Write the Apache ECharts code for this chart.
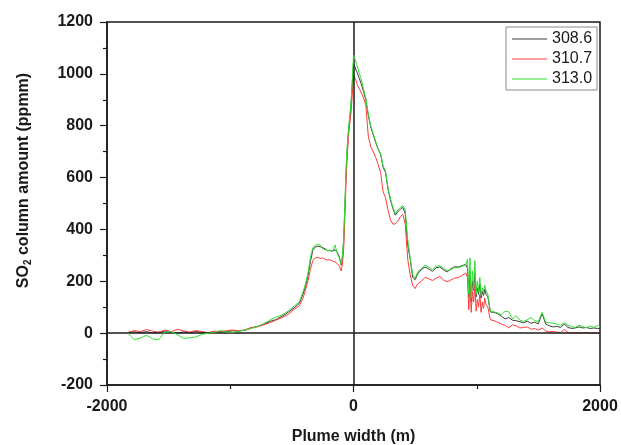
<!DOCTYPE html>
<html>
<head>
<meta charset="utf-8">
<script src="https://cdn.jsdelivr.net/npm/echarts@6/dist/echarts.min.js"></script>
<style>html,body{margin:0;padding:0;background:#fff;}#c{width:621px;height:445px;}</style>
</head>
<body>
<div id="c"></div>
<script>
const seriesNames = ['308.6', '310.7', '313.0'];
const xTicks = [-2000, 0, 2000];
const yTicks = [-200, 0, 200, 400, 600, 800, 1000, 1200];

const xs = [
  -1830,-1780,-1730,-1680,-1630,-1580,-1530,-1480,-1430,-1380,-1330,-1280,-1230,-1180,-1130,-1080,-1030,-980,-930,-880,
  -830,-780,-730,-680,-630,-580,-530,-480,
  -440,-410,-390,-370,-350,-330,-310,-290,-270,-250,-230,-210,-190,-170,-150,-130,-115,-100,
  -90,-80,-70,-60,-50,-40,-30,-20,-10,0,
  10,20,30,45,60,80,100,120,140,160,180,200,220,240,260,280,300,320,340,360,380,400,420,440,460,480,500,520,
  550,580,610,640,670,700,730,760,790,820,850,880,910,
  925,935,945,955,965,975,985,995,1005,1015,1025,1035,1045,1055,1065,1075,
  1090,1110,1140,1170,1200,1230,1260,1290,1320,1350,1380,1410,1440,1470,1500,1530,1560,1590,1620,1650,1680,1710,1740,1770,1800,1830,1860,1890,1920,1950,1980,2000
];

const y3086 = [
  3,5,2,6,1,4,8,3,0,5,2,6,3,1,4,7,5,9,8,11,
  20,26,34,45,52,65,80,98,
  115,150,180,220,275,320,332,335,333,330,325,318,318,316,322,310,295,262,
  290,350,480,620,715,780,830,880,960,1040,
  1030,1015,1005,985,965,935,900,840,795,765,735,710,690,640,620,555,513,480,455,468,478,485,460,340,285,215,206,228,
  245,255,248,238,252,255,245,236,248,256,255,260,265,
  250,140,235,120,200,165,230,140,175,150,190,135,160,145,170,150,
  140,82,80,75,65,55,60,50,48,44,40,46,38,42,36,75,35,28,24,26,22,35,22,18,20,24,20,22,18,20,18,18
];

const y3107 = [
  2,10,6,14,8,3,12,6,15,9,4,10,6,2,8,5,10,12,9,13,
  22,24,32,40,50,60,72,92,
  105,135,165,200,245,280,290,292,288,290,285,282,283,278,275,268,258,240,
  265,320,450,590,690,760,810,850,920,995,
  990,975,960,945,930,910,880,760,718,700,678,650,620,545,522,475,436,420,422,432,449,458,420,285,225,185,172,190,
  200,215,210,203,212,218,205,198,205,212,215,222,232,
  215,90,200,80,160,120,185,85,130,100,150,80,120,95,135,110,
  100,52,48,42,35,30,20,32,28,20,22,24,15,18,12,20,8,5,6,4,2,14,3,0,2,1,0,2,0,1,0,0
];

const y3130 = [
  0,-25,-20,-8,-22,-25,5,5,-5,-20,-18,-15,-5,0,2,10,5,3,8,12,
  18,25,36,50,62,70,85,105,
  120,158,190,230,290,330,338,342,340,325,322,318,320,315,340,305,290,265,
  300,365,500,640,730,790,840,890,975,1072,
  1060,1045,1030,1005,985,945,905,845,800,770,740,712,692,645,625,560,518,485,462,475,485,492,475,360,290,225,212,235,
  250,262,255,245,258,260,250,240,245,254,252,258,262,
  285,150,290,135,240,170,280,150,200,160,215,145,175,160,185,165,
  150,85,82,78,70,85,82,55,68,50,45,52,60,48,45,80,42,40,38,35,30,40,30,25,22,30,26,20,28,22,30,25
];

function pairs(ys) {
  const n = Math.min(xs.length, ys.length);
  const out = [];
  for (let i = 0; i < n; i++) out.push([xs[i], ys[i]]);
  return out;
}

const colors = ['#3c3c3c', '#ff3b3b', '#2fe02f'];
const fontFam = '"Liberation Sans", Arial, sans-serif';
const chart = echarts.init(document.getElementById('c'), null, {renderer: 'canvas'});

const seriesData = [y3086, y3107, y3130];
const series = seriesData.map((ys, i) => ({
  name: seriesNames[i],
  type: 'line',
  data: pairs(ys),
  symbol: 'none',
  showSymbol: false,
  lineStyle: {width: 1, color: colors[i]},
  itemStyle: {color: colors[i]},
  z: 3 + i,
  animation: false
}));
series[0].markLine = {
  silent: true,
  symbol: ['none', 'none'],
  label: {show: false},
  lineStyle: {color: '#1a1a1a', width: 1.5, type: 'solid'},
  data: [{xAxis: 0}, {yAxis: 0}],
  animation: false
};

const plainNum = v => String(v);

chart.setOption({
  backgroundColor: '#fff',
  animation: false,
  textStyle: {fontFamily: fontFam},
  grid: {left: 107, right: 21, top: 22, bottom: 60, containLabel: false, outerBoundsMode: 'none', show: true, borderColor: '#1a1a1a', borderWidth: 1.5, backgroundColor: 'transparent'},
  legend: {
    orient: 'vertical',
    left: 506, top: 27,
    padding: [4, 5, 3, 6],
    itemGap: 4,
    itemWidth: 35,
    itemHeight: 14,
    borderColor: '#8a8a8a',
    borderWidth: 1,
    backgroundColor: '#fff',
    textStyle: {fontSize: 16, color: '#1a1a1a', fontFamily: fontFam, lineHeight: 16},
    data: seriesNames.map((n, i) => ({name: n, icon: 'path://M0,0 L35,0 L35,1 L0,1 Z', itemStyle: {color: colors[i]}}))
  },
  xAxis: {
    type: 'value',
    min: xTicks[0], max: xTicks[xTicks.length - 1], interval: 2000,
    name: 'Plume width (m)',
    nameLocation: 'middle',
    nameGap: 44,
    nameTextStyle: {fontSize: 16, fontWeight: 'bold', color: '#1a1a1a', fontFamily: fontFam},
    axisLine: {show: true, onZero: false, lineStyle: {color: '#1a1a1a', width: 1.5}},
    axisTick: {show: true, length: 7, lineStyle: {color: '#1a1a1a', width: 1.2}},
    minorTick: {show: true, splitNumber: 2, length: 4, lineStyle: {color: '#1a1a1a', width: 1.2}},
    axisLabel: {fontSize: 16, fontWeight: 'bold', color: '#1a1a1a', margin: 14, fontFamily: fontFam, formatter: plainNum},
    splitLine: {show: false}
  },
  yAxis: {
    type: 'value',
    min: yTicks[0], max: yTicks[yTicks.length - 1], interval: 200,
    name: '{n|SO}{s|2}{n| column amount (ppmm)}',
    nameLocation: 'middle',
    nameRotate: 90,
    nameGap: 74,
    nameTextStyle: {
      fontSize: 16, fontWeight: 'bold', color: '#1a1a1a', fontFamily: fontFam,
      padding: [0, 0, 0, 46],
      rich: {
        n: {fontSize: 16, fontWeight: 'bold', color: '#1a1a1a', fontFamily: fontFam},
        s: {fontSize: 10, fontWeight: 'bold', color: '#1a1a1a', fontFamily: fontFam, verticalAlign: 'bottom', padding: [8, 0, 0, 0]}
      }
    },
    axisLine: {show: true, onZero: false, lineStyle: {color: '#1a1a1a', width: 1.5}},
    axisTick: {show: true, length: 7, lineStyle: {color: '#1a1a1a', width: 1.2}},
    minorTick: {show: true, splitNumber: 2, length: 4, lineStyle: {color: '#1a1a1a', width: 1.2}},
    axisLabel: {fontSize: 16, fontWeight: 'bold', color: '#1a1a1a', margin: 14, fontFamily: fontFam, formatter: plainNum},
    splitLine: {show: false}
  },
  series: series
});
</script>
</body>
</html>
